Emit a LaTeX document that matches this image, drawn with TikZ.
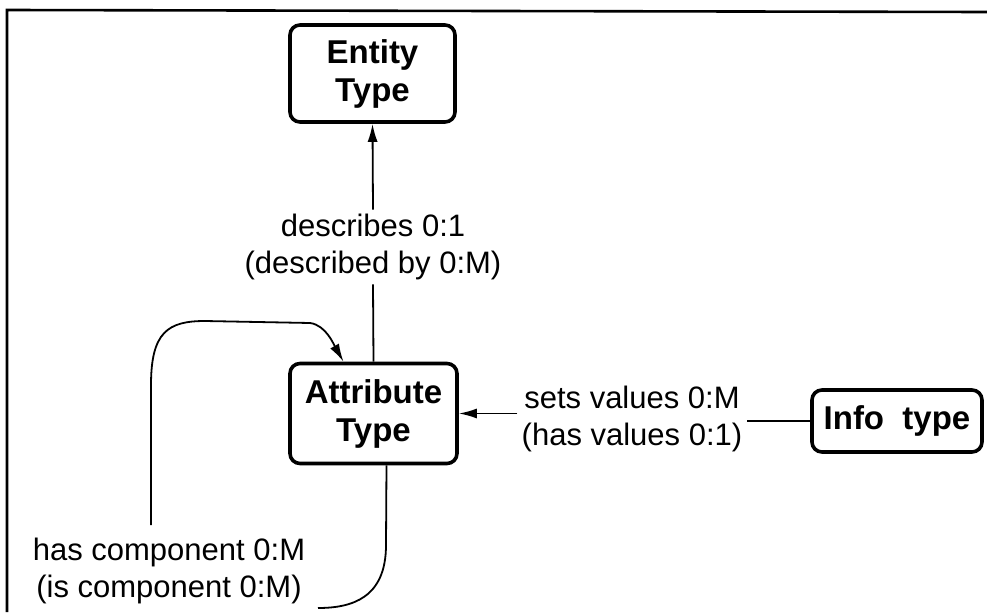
\documentclass[tikz,border=0pt]{standalone}
\usepackage{fontspec}
\setmainfont{Liberation Sans}
\usepackage{tikz}
\usetikzlibrary{arrows.meta, calc}

\tikzset{
    typebox/.style={draw, line width=1.8pt, rounded corners=5pt, align=center,
        inner sep=0pt, font=\bfseries\fontsize{16.5}{19}\selectfont},
    rel/.style={align=center, inner sep=2pt, font=\fontsize{15.5}{18.5}\selectfont},
    link/.style={line width=0.9pt},
    tip/.style={-{Latex[length=9pt,width=5pt]}}
}

\begin{document}
\begin{tikzpicture}[x=0.5pt, y=-0.5pt]

    \useasboundingbox (0,0) rectangle (987,616);

    % frame of the scanned page
    \draw[line width=1.3pt] (7,612) -- (7,10) -- (987,12);

    % the three types
    \node[typebox, minimum width=82.5pt, minimum height=48.5pt] (entity) at (372.5,73.5) {Entity\\Type};
    \node[typebox, minimum width=83.5pt, minimum height=50pt] (attr) at (373.5,413.5) {Attribute\\Type};
    \node[typebox, minimum width=85pt, minimum height=31pt] (info) at (897,421) {Info\ \ type};

    % relation labels
    \node[rel] (desc) at (373,247) {describes 0:1\\(described by 0:M)};
    \node[rel] (sets) at (632,419) {sets values 0:M\\(has values 0:1)};
    \node[rel] (comp) at (169,571) {has component 0:M\\(is component 0:M)};

    % describes
    \draw[link] (attr.north) -- (desc.south);
    \draw[link, tip] (desc.north) -- (entity.south);

    % sets values
    \draw[link] (info.west) -- (info.west -| sets.east);
    \draw[link, tip] (sets.west |- attr.east) -- (attr.east);

    % has component (recursive)
    \coordinate (compTop) at (151,525);
    \coordinate (compEnd) at (318,608);
    \draw[link, tip] (compTop) -- (151,385)
        .. controls (151,332) and (168,321) .. (205,321)
        -- (310,323)
        .. controls (326,325) and (334,345) .. ([xshift=-15pt]attr.north);
    \draw[link] ([xshift=6.5pt]attr.south) -- (386,545)
        .. controls (386,598) and (352,608) .. (compEnd);

\end{tikzpicture}
\end{document}
